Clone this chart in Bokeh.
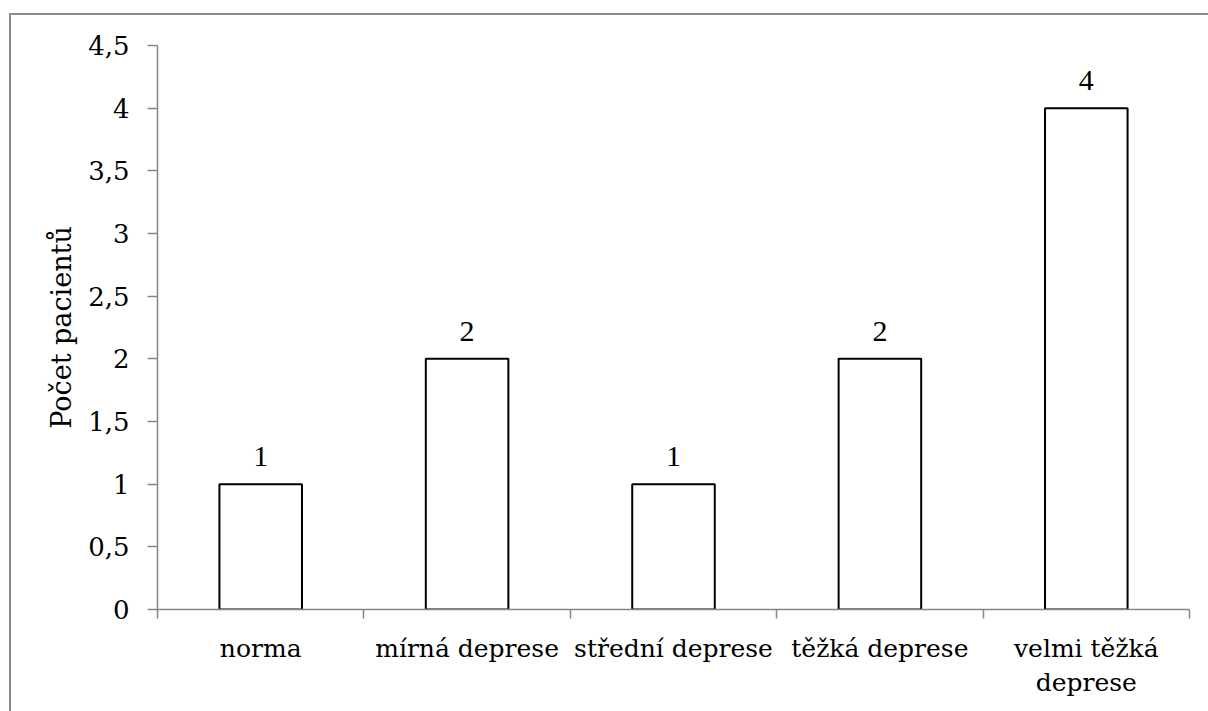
from bokeh.plotting import figure
from bokeh.models import (FactorRange, Range1d, LinearAxis, CategoricalAxis,
                          FixedTicker, CustomJSTickFormatter, ColumnDataSource,
                          LabelSet)
from bokeh.embed import file_html
from bokeh.resources import INLINE

# Patients per depression severity level
categories = ["norma", "mírná deprese", "střední deprese", "těžká deprese",
              "velmi těžká\ndeprese"]
patients = [1, 2, 1, 2, 4]
y_ticks = [0, 0.5, 1, 1.5, 2, 2.5, 3, 3.5, 4, 4.5]
y_title = "Počet pacientů"

FONT = "DejaVu Serif"
FONT_SIZE = "25px"
AXIS_GREY = "#868686"
FRAME_GREY = "#8c8c8c"

src = ColumnDataSource(data=dict(cat=categories, val=patients,
                                 txt=[str(v) for v in patients]))

p = figure(width=1208, height=711, output_backend="svg", toolbar_location=None,
           x_range=FactorRange(*categories, range_padding=0),
           y_range=Range1d(0, 4.5),
           x_axis_location=None, y_axis_location="left",
           min_border_left=157, min_border_right=19,
           min_border_top=45, min_border_bottom=102)
p.xgrid.visible = False
p.ygrid.visible = False
p.outline_line_color = None
p.background_fill_color = "white"
# transparent surround so the host's frame lines show through
p.border_fill_color = None
line = f"linear-gradient({FRAME_GREY}, {FRAME_GREY})"
p.styles = {"background": f"{line} 9px 13px / 100% 2px no-repeat, "
                          f"{line} 9px 13px / 2px 100% no-repeat, white"}

# value axis
ya = p.yaxis[0]
ya.ticker = FixedTicker(ticks=y_ticks)
ya.formatter = CustomJSTickFormatter(code="return tick.toString().replace('.', ',');")
ya.axis_line_color = AXIS_GREY
ya.axis_line_width = 1.5
ya.major_tick_line_color = AXIS_GREY
ya.major_tick_line_width = 1.5
ya.major_tick_out = 10
ya.major_tick_in = 0
ya.minor_tick_line_color = None
ya.major_label_text_font = FONT
ya.major_label_text_font_size = "26px"
ya.major_label_text_color = "black"
ya.major_label_standoff = 18
ya.axis_label = y_title
ya.axis_label_text_font = FONT
ya.axis_label_text_font_size = "27px"
ya.axis_label_text_font_style = "normal"
ya.axis_label_text_color = "black"
ya.axis_label_standoff = 8

# category boundary ticks (synthetic coordinates 0..n of the factor range)
tick_axis = LinearAxis(ticker=FixedTicker(ticks=list(range(len(categories) + 1))),
                       axis_line_color=AXIS_GREY, axis_line_width=1.5,
                       major_tick_line_color=AXIS_GREY, major_tick_line_width=1.5,
                       major_tick_out=9, major_tick_in=0,
                       minor_tick_line_color=None,
                       major_label_text_font_size="1px",
                       major_label_text_color=None,
                       major_label_standoff=0)
p.add_layout(tick_axis, "below")

# category names
cat_axis = CategoricalAxis(axis_line_color=None, major_tick_line_color=None,
                           minor_tick_line_color=None,
                           major_label_text_font=FONT,
                           major_label_text_font_size=FONT_SIZE,
                           major_label_text_color="black",
                           major_label_text_line_height=1.2,
                           major_label_standoff=9)
p.add_layout(cat_axis, "below")

p.vbar(x="cat", top="val", width=0.4, source=src,
       fill_color="white", line_color="black", line_width=2)

labels = LabelSet(x="cat", y="val", text="txt", source=src,
                  text_font=FONT, text_font_size="30px", text_color="black",
                  text_align="center", text_baseline="alphabetic", y_offset=18)
p.add_layout(labels)

open("out.html", "w").write(file_html(p, INLINE))
